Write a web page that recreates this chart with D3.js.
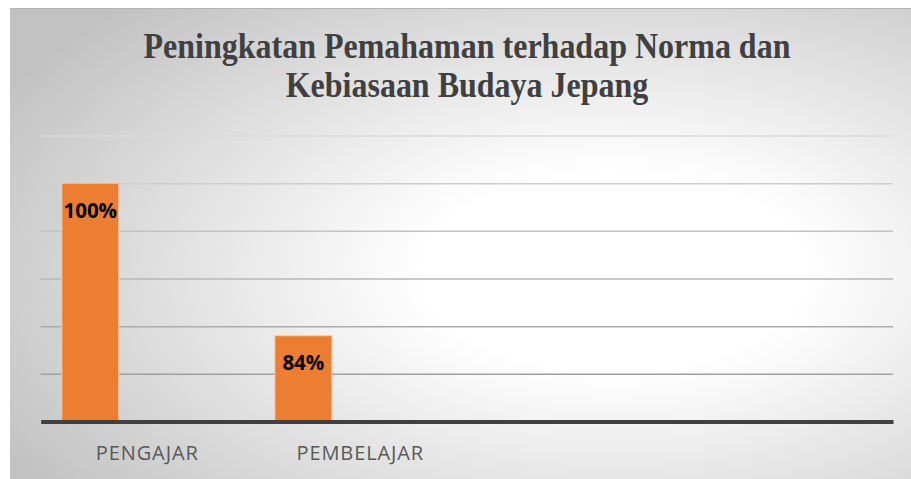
<!DOCTYPE html>
<html>
<head>
<meta charset="utf-8">
<script src="https://cdn.jsdelivr.net/npm/d3@7"></script>
<style>
  html, body { margin: 0; padding: 0; background: #fff; }
  svg { display: block; }
</style>
</head>
<body>
<div id="chart"></div>
<script>
// chart data
var titleLines = ["Peningkatan Pemahaman terhadap Norma dan", "Kebiasaan Budaya Jepang"];
var categories = ["PENGAJAR", "PEMBELAJAR", "", ""];
var seriesNames = ["Series1", "Series2", "Series3"];
var series1 = [100, 84, null, null];
var series2 = [null, null, null, null];
var series3 = [null, null, null, null];
var yTicks = [75, 80, 85, 90, 95, 100, 105];

var W = 911, H = 479;
var svg = d3.select("#chart").append("svg")
    .attr("width", W)
    .attr("height", H);

var defs = svg.append("defs");
var grad = defs.append("radialGradient")
    .attr("id", "bg")
    .attr("cx", 0.67).attr("cy", 0.56)
    .attr("r", 0.78)
    .attr("fx", 0.67).attr("fy", 0.56);
grad.append("stop").attr("offset", 0).attr("stop-color", "#ffffff");
grad.append("stop").attr("offset", 0.27).attr("stop-color", "#ffffff");
grad.append("stop").attr("offset", 1).attr("stop-color", "#c2c2c2");

// chart area background
svg.append("rect")
    .attr("x", 10).attr("y", 8)
    .attr("width", W - 10).attr("height", H - 8)
    .attr("fill", "url(#bg)");
svg.append("line")
    .attr("x1", 10).attr("x2", W)
    .attr("y1", 8.5).attr("y2", 8.5)
    .attr("stroke", "#b4b4b4").attr("stroke-width", 1);

// title, a bit taller than plain Liberation Serif
svg.append("g")
    .attr("transform", "translate(467,58) scale(1,1.1)")
    .append("text")
    .attr("text-anchor", "middle")
    .style("font-family", "'Liberation Serif', 'Times New Roman', serif")
    .style("font-weight", "bold")
    .style("font-size", "32px")
    .attr("fill", "#404040")
    .selectAll("tspan")
    .data(titleLines)
    .enter().append("tspan")
    .attr("x", 0)
    .attr("dy", function(d, i) { return i ? 35.5 : 0; })
    .text(function(d) { return d; });

var left = 40.7, right = 893;
var x0 = d3.scaleBand()
    .domain(d3.range(categories.length))
    .range([left, right])
    .padding(0);

var x1 = d3.scaleBand()
    .domain(seriesNames)
    .range([0, x0.bandwidth()])
    .paddingInner(0)
    .paddingOuter(0.37);

var y = d3.scaleLinear()
    .domain([75, 105])
    .range([421.5, 135.5]);

var gridColor = d3.scaleLinear()
    .domain([80, 105])
    .range(["#a0a0a0", "#dadada"]);

// gridlines
var grid = svg.append("g")
    .attr("class", "grid")
    .attr("transform", "translate(" + left + ",0)")
    .call(d3.axisLeft(y)
        .tickValues(yTicks.slice(1))
        .tickSize(-(right - left))
        .tickFormat(""));
grid.select(".domain").remove();
grid.selectAll(".tick line")
    .attr("stroke", function(d) { return gridColor(d); })
    .attr("stroke-width", 1.5);

// bars
var allSeries = [series1, series2, series3];
var rows = [];
allSeries.forEach(function(vals, s) {
    vals.forEach(function(v, i) {
        if (v != null) rows.push({ cat: i, series: seriesNames[s], value: v });
    });
});

svg.append("g").selectAll("rect")
    .data(rows)
    .enter().append("rect")
    .attr("x", function(d) { return x0(d.cat) + x1(d.series); })
    .attr("y", function(d) { return y(d.value); })
    .attr("width", x1.bandwidth())
    .attr("height", function(d) { return y(75) - y(d.value); })
    .attr("fill", "#ed7d31")
    .attr("stroke", "#f8cbad")
    .attr("stroke-width", 1);

// data labels
svg.append("g").selectAll("text")
    .data(rows)
    .enter().append("text")
    .attr("x", function(d) { return x0(d.cat) + x1(d.series) + x1.bandwidth() / 2; })
    .attr("y", function(d) { return y(d.value) + 34.5; })
    .attr("text-anchor", "middle")
    .style("font-family", "'Open Sans', 'Liberation Sans', sans-serif")
    .style("font-weight", "bold")
    .style("font-size", "20.5px")
    .attr("fill", "#000")
    .text(function(d) { return d.value + "%"; });

// baseline axis
var xAxis = svg.append("g")
    .attr("transform", "translate(0," + y(75) + ")")
    .call(d3.axisBottom(x0)
        .tickSize(0)
        .tickPadding(24)
        .tickFormat(function(i) { return categories[i]; }));
xAxis.select(".domain")
    .attr("stroke", "#404040")
    .attr("stroke-width", 4);
xAxis.selectAll(".tick text")
    .style("font-family", "'Open Sans', 'Liberation Sans', sans-serif")
    .style("font-size", "20px")
    .style("letter-spacing", "0.9px")
    .attr("fill", "#595959");
</script>
</body>
</html>
